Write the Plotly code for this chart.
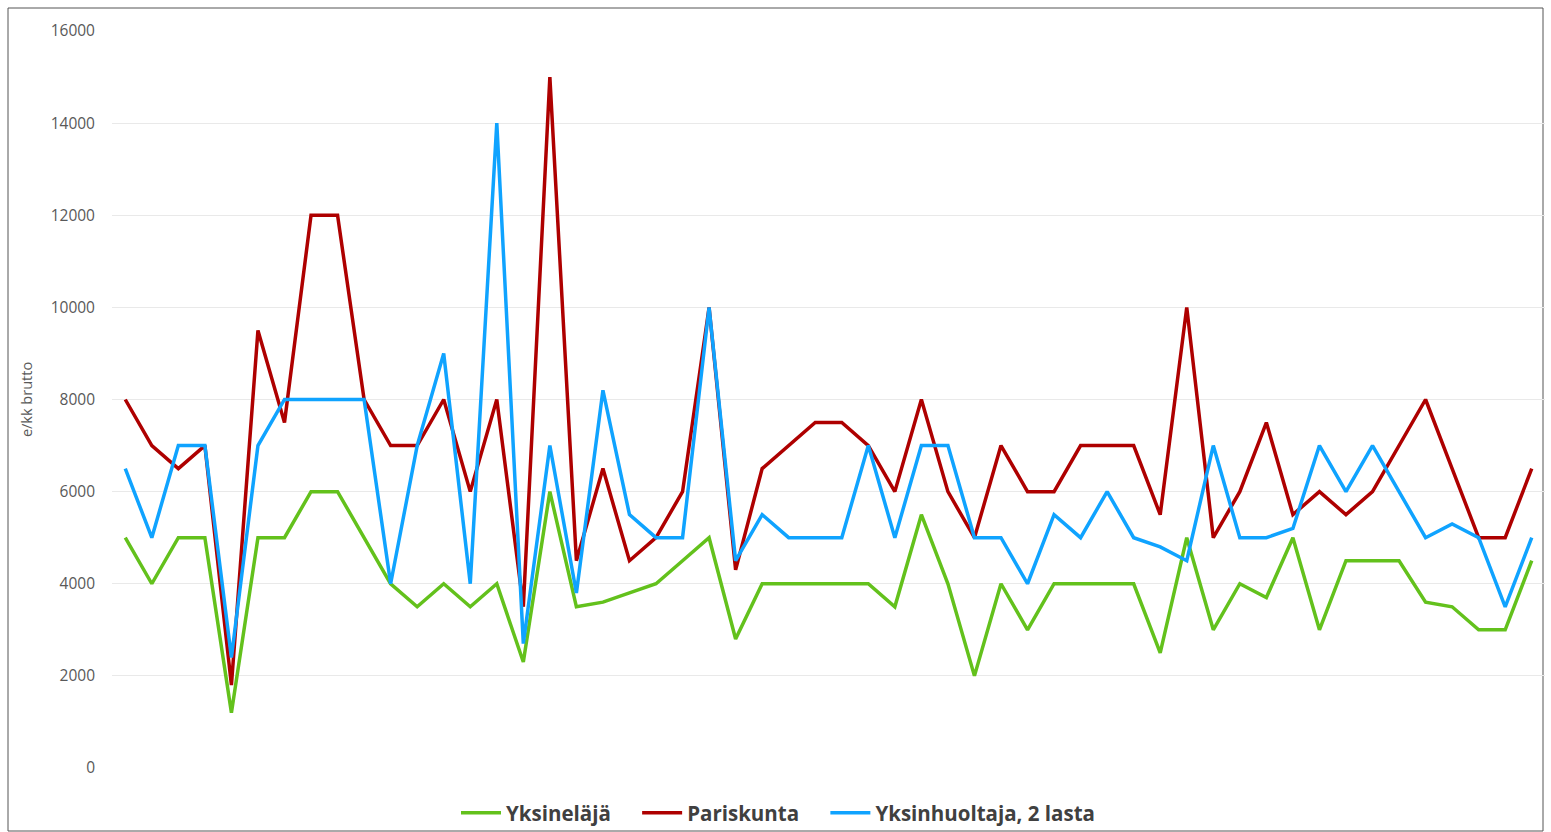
import plotly.graph_objects as go

series_names = ["Yksineläjä", "Pariskunta", "Yksinhuoltaja, 2 lasta"]

yksinelaja = [5000, 4000, 5000, 5000, 1200, 5000, 5000, 6000, 6000, 5000,
              4000, 3500, 4000, 3500, 4000, 2300, 6000, 3500, 3600, 3800,
              4000, 4500, 5000, 2800, 4000, 4000, 4000, 4000, 4000, 3500,
              5500, 4000, 2000, 4000, 3000, 4000, 4000, 4000, 4000, 2500,
              5000, 3000, 4000, 3700, 5000, 3000, 4500, 4500, 4500, 3600,
              3500, 3000, 3000, 4500]

pariskunta = [8000, 7000, 6500, 7000, 1800, 9500, 7500, 12000, 12000, 8000,
              7000, 7000, 8000, 6000, 8000, 3500, 15000, 4500, 6500, 4500,
              5000, 6000, 10000, 4300, 6500, 7000, 7500, 7500, 7000, 6000,
              8000, 6000, 5000, 7000, 6000, 6000, 7000, 7000, 7000, 5500,
              10000, 5000, 6000, 7500, 5500, 6000, 5500, 6000, 7000, 8000,
              6500, 5000, 5000, 6500]

yksinhuoltaja = [6500, 5000, 7000, 7000, 2400, 7000, 8000, 8000, 8000, 8000,
                 4000, 7000, 9000, 4000, 14000, 2700, 7000, 3800, 8200, 5500,
                 5000, 5000, 10000, 4500, 5500, 5000, 5000, 5000, 7000, 5000,
                 7000, 7000, 5000, 5000, 4000, 5500, 5000, 6000, 5000, 4800,
                 4500, 7000, 5000, 5000, 5200, 7000, 6000, 7000, 6000, 5000,
                 5300, 5000, 3500, 5000]

y_ticks = [0, 2000, 4000, 6000, 8000, 10000, 12000, 14000, 16000]
colors = ["#63C11C", "#AE0000", "#0FA3FF"]

x = list(range(len(yksinelaja)))

fig = go.Figure()
pad = "\u00a0" * 4
for i, (name, vals, col) in enumerate(zip(series_names, [yksinelaja, pariskunta, yksinhuoltaja], colors)):
    label = name + (pad if i < len(series_names) - 1 else "")
    fig.add_trace(go.Scatter(x=x, y=vals, mode="lines", name=label,
                             line=dict(color=col, width=3.5)))

L, R, T, B = 112, 6, 31, 64
W, H = 1551, 832
pw, ph = W - L - R, H - T - B

def px_to_paper_x(px):
    return (px - L) / pw

def px_to_paper_y(py):
    return (H - B - py) / ph

fig.update_layout(
    width=W, height=H,
    margin=dict(l=L, r=R, t=T, b=B, autoexpand=False),
    paper_bgcolor="white", plot_bgcolor="white",
    font=dict(family="Open Sans, Lato, sans-serif", color="#595959"),
    xaxis=dict(range=[-0.5, len(x) - 0.5], showticklabels=False, showgrid=False,
               zeroline=False, showline=False, ticks=""),
    yaxis=dict(range=[0, 16000], tickvals=y_ticks, ticktext=[str(v) for v in y_ticks],
               showgrid=True, gridcolor="#E9E9E9", gridwidth=1, zeroline=False,
               showline=False, tickfont=dict(size=15.5, color="#595959"),
               ticklabelstandoff=16,
               title=dict(text="e/kk brutto", font=dict(size=14.5, color="#595959"),
                          standoff=14)),
    legend=dict(orientation="h", x=px_to_paper_x(778), xanchor="center",
                y=px_to_paper_y(813), yanchor="middle", bgcolor="rgba(0,0,0,0)",
                font=dict(size=20.5, color="#404040",
                          family="Open Sans, sans-serif", weight="bold"),
                itemwidth=40, tracegroupgap=0),
    showlegend=True,
    shapes=[dict(type="rect", xref="paper", yref="paper",
                 x0=px_to_paper_x(8), x1=px_to_paper_x(1543),
                 y0=px_to_paper_y(831), y1=px_to_paper_y(8),
                 line=dict(color="#555555", width=1), fillcolor="rgba(0,0,0,0)",
                 layer="below")],
)

fig.write_html("out.html")
